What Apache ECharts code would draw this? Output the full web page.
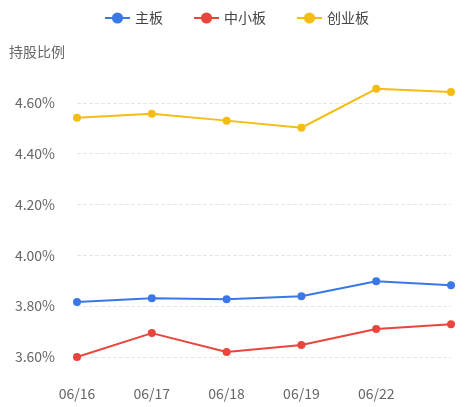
<!DOCTYPE html>
<html>
<head>
<meta charset="utf-8">
<script src="https://cdn.jsdelivr.net/npm/echarts@6/dist/echarts.min.js"></script>
<style>html,body{margin:0;padding:0;background:#fff}#main{width:473px;height:407px}</style>
</head>
<body>
<div id="main"></div>
<script>
// 数据
var dates = ["06/16", "06/17", "06/18", "06/19", "06/22", "06/23"];
var mainBoard = [3.816, 3.831, 3.827, 3.839, 3.898, 3.882];
var smeBoard = [3.600, 3.694, 3.620, 3.647, 3.710, 3.729];
var gemBoard = [4.541, 4.557, 4.530, 4.502, 4.655, 4.643];

var chart = echarts.init(document.getElementById("main"));

function lineSeries(name, color, data) {
  return {
    name: name,
    type: "line",
    data: data,
    symbol: "circle",
    symbolSize: 8,
    itemStyle: { color: color },
    lineStyle: { color: color, width: 2 }
  };
}

chart.setOption({
  animation: false,
  textStyle: { fontFamily: "Noto Sans CJK SC" },
  title: {
    text: "持股比例",
    left: 4,
    top: 40,
    textStyle: { color: "#666", fontSize: 14, fontWeight: "normal" }
  },
  legend: {
    top: 6,
    left: "center",
    itemGap: 30,
    textStyle: { color: "#444", fontSize: 14 },
    data: ["主板", "中小板", "创业板"]
  },
  grid: { left: 77, right: 22, top: 52, bottom: 50 },
  xAxis: {
    type: "category",
    boundaryGap: false,
    data: dates,
    axisLine: { show: false },
    axisTick: { show: false },
    axisLabel: {
      color: "#666",
      fontSize: 14,
      margin: 30,
      interval: function (i) { return i < dates.length - 1; }
    }
  },
  yAxis: {
    type: "value",
    min: 3.6,
    max: 4.8,
    interval: 0.2,
    axisLine: { show: false },
    axisTick: { show: false },
    axisLabel: {
      color: "#666",
      fontSize: 14,
      margin: 22,
      showMaxLabel: false,
      formatter: function (v) { return v.toFixed(2) + "%"; }
    },
    splitLine: { showMaxLine: false, lineStyle: { color: "#e6e6e6", type: "dashed" } }
  },
  series: [
    lineSeries("主板", "#3b78e7", mainBoard),
    lineSeries("中小板", "#e8453c", smeBoard),
    lineSeries("创业板", "#f5bd13", gemBoard)
  ]
});
</script>
</body>
</html>
